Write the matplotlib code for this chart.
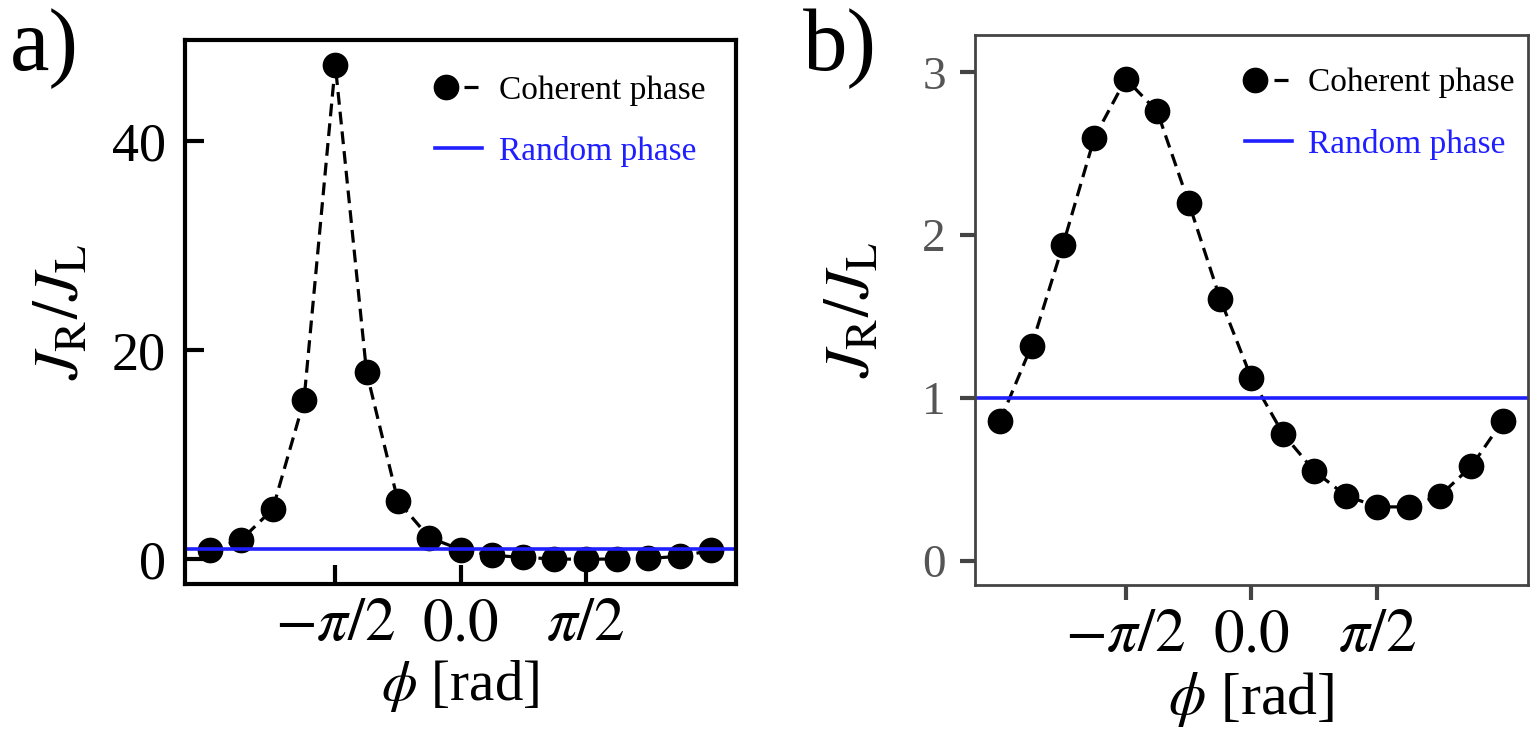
import numpy as np
import matplotlib
matplotlib.use("Agg")
import matplotlib.pyplot as plt
from matplotlib.legend_handler import HandlerBase
from matplotlib.lines import Line2D

plt.rcParams['font.family'] = ['Liberation Serif', 'DejaVu Serif']
plt.rcParams['mathtext.fontset'] = 'stix'

# ---- data ----
phi = np.linspace(-np.pi, np.pi, 17)
ratio_a = [0.86, 1.9, 4.8, 15.2, 47.3, 17.9, 5.6, 2.1, 0.95,
           0.4, 0.2, 0.05, 0.02, 0.05, 0.1, 0.3, 0.86]
ratio_b = [0.86, 1.32, 1.94, 2.60, 2.96, 2.76, 2.20, 1.61, 1.12,
           0.78, 0.55, 0.40, 0.33, 0.33, 0.40, 0.58, 0.86]
random_level = 1.0
xtick_vals = [-np.pi / 2, 0.0, np.pi / 2]
xtick_labels = [r'$-\pi/2$', r'$0.0$', r'$\pi/2$']
yticks_a = [0, 20, 40]
yticks_b = [0, 1, 2, 3]
legend_labels = ['Coherent phase', 'Random phase']
panel_labels = ['a)', 'b)']


class MarkerDashHandler(HandlerBase):
    """Marker on the left, one short dash on the right."""
    def create_artists(self, legend, orig_handle, xdescent, ydescent,
                       width, height, fontsize, trans):
        y = height / 2 - ydescent
        x0 = -xdescent
        dash = Line2D([x0 + width * 0.62, x0 + width * 0.92], [y, y],
                      color=orig_handle.get_color(), lw=orig_handle.get_linewidth(),
                      linestyle='-', solid_capstyle='butt')
        mk = Line2D([x0 + width * 0.22], [y], linestyle='', marker='o',
                    markersize=orig_handle.get_markersize(),
                    color=orig_handle.get_color())
        dash.set_transform(trans)
        mk.set_transform(trans)
        return [dash, mk]


W, H = 1540, 736
fig = plt.figure(figsize=(W / 100, H / 100), dpi=100)

ax_a = fig.add_axes([185 / W, 1 - 584 / H, 551 / W, 544 / H])
ax_b = fig.add_axes([975 / W, 1 - 585 / H, 553 / W, 550 / H])

grey = '#444444'
settings = {
    'a': dict(ax=ax_a, data=ratio_a, yt=yticks_a, leg_anchor=(0.944, 0.935),
              ylab_x=-0.167, xlab_y=-0.136, xlab_fs=41),
    'b': dict(ax=ax_b, data=ratio_b, yt=yticks_b, leg_anchor=(0.976, 0.94),
              ylab_x=-0.166, xlab_y=-0.155, xlab_fs=43),
}

for style, st in settings.items():
    ax = st['ax']
    coh, = ax.plot(phi, st['data'], color='black', linestyle=(0, (4.0, 2.2)), lw=2.3,
                   marker='o', markersize=17.5, label=legend_labels[0])
    rnd = ax.axhline(random_level, color='#1f1fff', lw=2.6, label=legend_labels[1])
    ax.set_xticks(xtick_vals)
    ax.set_xticklabels(xtick_labels)
    ax.set_yticks(st['yt'])
    ax.set_xlabel(r'$\phi$ [rad]', fontsize=st['xlab_fs'])
    ax.xaxis.set_label_coords(0.5, st['xlab_y'])
    ax.set_ylabel(r'$J_\mathrm{R}/J_\mathrm{L}$', fontsize=46)
    ax.yaxis.set_label_coords(st['ylab_x'], 0.5)
    ax.legend(handles=[coh, rnd], loc='upper right', bbox_to_anchor=st['leg_anchor'],
              frameon=False, fontsize=24, handlelength=1.4, handletextpad=0.5,
              labelspacing=0.9, borderaxespad=0.0, borderpad=0.0,
              labelcolor='linecolor',
              handler_map={coh: MarkerDashHandler()})
    if style == 'a':
        for s in ax.spines.values():
            s.set_linewidth(3.0)
            s.set_color('black')
        ax.tick_params(direction='in', length=14, width=3, colors='black')
        ax.tick_params(axis='y', labelsize=39, pad=14)
        ax.tick_params(axis='x', labelsize=44, pad=10)
    else:
        for s in ax.spines.values():
            s.set_linewidth(2.0)
            s.set_color(grey)
        ax.tick_params(direction='out', length=11, width=3, color=grey)
        ax.tick_params(axis='y', labelsize=34, pad=10, labelcolor='#555555')
        ax.tick_params(axis='x', labelsize=44, pad=6)
        ax.set_ylim(-0.15, 3.23)

fig.text(10 / W, 1 - 70 / H, panel_labels[0], fontsize=64, ha='left', va='baseline')
fig.text(803 / W, 1 - 70 / H, panel_labels[1], fontsize=64, ha='left', va='baseline')

fig.savefig('out.png', dpi=100)
